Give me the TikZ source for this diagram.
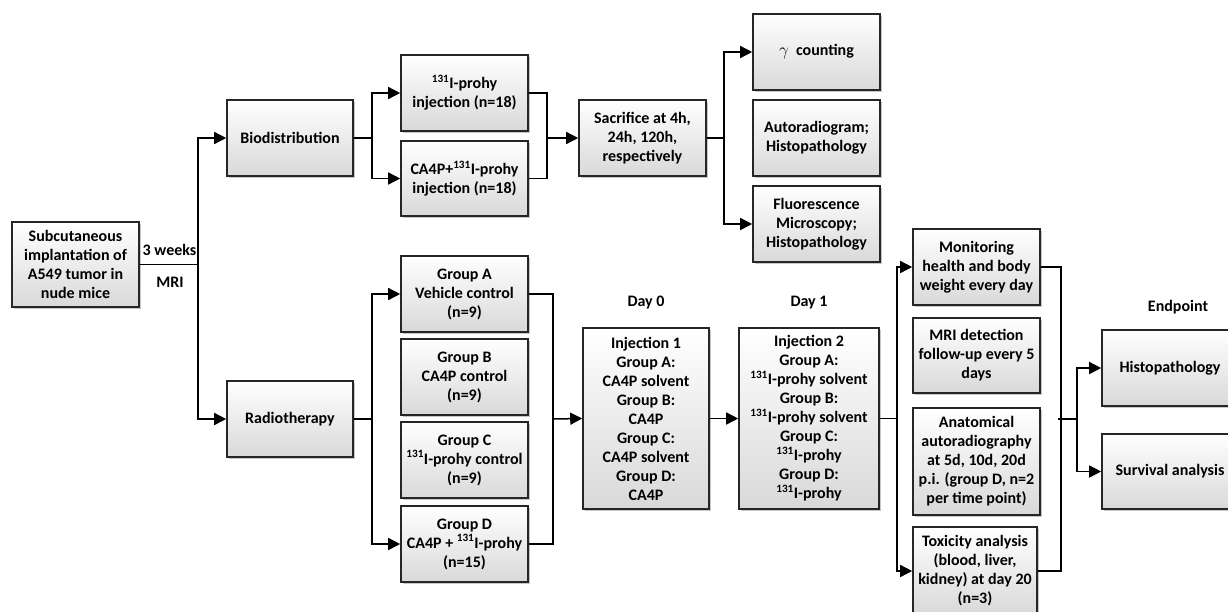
\documentclass[tikz,border=0pt]{standalone}
\usepackage{fontspec}
\setmainfont{Carlito}
\usetikzlibrary{arrows.meta,shadows}
\begin{document}
\begin{tikzpicture}[x=1pt,y=-1pt,
  box/.style={draw=black!85, line width=1.6pt, top color=white, bottom color=black!15,
    align=center, font=\fontsize{16}{19}\selectfont\bfseries, inner sep=1pt,
    drop shadow={shadow xshift=1.5pt,shadow yshift=-1.5pt,fill=black,opacity=0.22}},
  lbl/.style={font=\fontsize{16}{19}\selectfont\bfseries, inner sep=0pt},
  ln/.style={line width=1.5pt, draw=black},
  arr/.style={ln, -{Triangle[length=12pt,width=12pt]}}
]
\useasboundingbox (0,0) rectangle (1228,611);
\clip (0,0) rectangle (1228,611);
\fill[white] (0,0) rectangle (1228,611);

% nodes
\node[box, minimum width=127, minimum height=85] (sub) at (75.5,264.5) {Subcutaneous\\implantation of\\A549 tumor in\\nude mice};
\node[box, minimum width=126, minimum height=76] (bio) at (290,138) {Biodistribution};
\node[box, minimum width=126, minimum height=76] (radio) at (290,419) {Radiotherapy};
\node[box, minimum width=127, minimum height=76] (i131) at (464.5,93) {\textsuperscript{131}I-prohy\\injection (n=18)};
\node[box, minimum width=127, minimum height=75] (ca) at (464.5,178.5) {CA4P+\textsuperscript{131}I-prohy\\injection (n=18)};
\node[box, minimum width=127, minimum height=76] (sac) at (642.5,138) {Sacrifice at 4h,\\24h, 120h,\\respectively};
\node[box, minimum width=127, minimum height=76] (gam) at (816.5,52) {$\gamma$\ \ counting};
\node[box, minimum width=127, minimum height=76] (aut) at (816.5,138) {Autoradiogram;\\Histopathology};
\node[box, minimum width=127, minimum height=76] (flu) at (816.5,224) {Fluorescence\\Microscopy;\\Histopathology};
\node[box, minimum width=127, minimum height=76] (ga) at (464.5,294) {Group A\\Vehicle control\\(n=9)};
\node[box, minimum width=127, minimum height=76] (gb) at (464.5,377) {Group B\\CA4P control\\(n=9)};
\node[box, minimum width=127, minimum height=76] (gc) at (464.5,460) {Group C\\\textsuperscript{131}I-prohy control\\(n=9)};
\node[box, minimum width=127, minimum height=76] (gd) at (464.5,544) {Group D\\CA4P + \textsuperscript{131}I-prohy\\(n=15)};
\node[box, minimum width=126, minimum height=181] (inj1) at (646,418.5) {Injection 1\\Group A:\\CA4P solvent\\Group B:\\CA4P\\Group C:\\CA4P solvent\\Group D:\\CA4P};
\node[box, minimum width=140, minimum height=181] (inj2) at (809,418.5) {Injection 2\\Group A:\\\textsuperscript{131}I-prohy solvent\\Group B:\\\textsuperscript{131}I-prohy solvent\\Group C:\\\textsuperscript{131}I-prohy\\Group D:\\\textsuperscript{131}I-prohy};
\node[box, minimum width=127, minimum height=76] (mon) at (976.5,267) {Monitoring\\health and body\\weight every day};
\node[box, minimum width=127, minimum height=75] (mri) at (976.5,355.5) {MRI detection\\follow-up every 5\\days};
\node[box, minimum width=127, minimum height=107] (ana) at (976.5,461.5) {Anatomical\\autoradiography\\at 5d, 10d, 20d\\p.i. (group D, n=2\\per time point)};
\node[box, minimum width=124, minimum height=88] (tox) at (975,571) {Toxicity analysis\\(blood, liver,\\kidney) at day 20\\(n=3)};
\node[box, minimum width=136, minimum height=76] (his) at (1170,368) {Histopathology};
\node[box, minimum width=136, minimum height=75] (sur) at (1170,471.5) {Survival analysis};

% labels
\node[lbl] (w3) at (169.5,250) {3 weeks};
\node[lbl] (mr) at (170,282) {MRI};
\node[lbl] (d0) at (646,303) {Day 0};
\node[lbl] (d1) at (809,303) {Day 1};
\node[lbl] (ep) at (1178,307) {Endpoint};

% junctions
\coordinate (j1) at (198,264.5);
\coordinate (j2) at (372,138);
\coordinate (j3) at (547,138);
\coordinate (j4) at (724,138);
\coordinate (j5) at (372,419);
\coordinate (j6) at (553,419);
\coordinate (j7) at (897,418.5);
\coordinate (j8) at (1061,419);
\coordinate (j9) at (1077,419);

% connectors
\draw[ln] (sub.east) -- (j1);
\draw[arr] (j1) |- (bio.west);
\draw[arr] (j1) |- (radio.west);
\draw[ln] (bio.east) -- (j2);
\draw[arr] (j2) |- (i131.west);
\draw[arr] (j2) |- (ca.west);
\draw[ln] (i131.east) -| (j3);
\draw[ln] (ca.east) -| (j3);
\draw[arr] (j3) -- (sac.west);
\draw[ln] (sac.east) -- (j4);
\draw[arr] (j4) |- (gam.west);
\draw[arr] (j4) |- (flu.west);
\draw[ln] (radio.east) -- (j5);
\draw[arr] (j5) |- (ga.west);
\draw[arr] (j5) |- (gd.west);
\draw[ln] (ga.east) -| (j6);
\draw[ln] (gd.east) -| (j6);
\draw[arr] (j6) -- (inj1.west);
\draw[arr] (inj1.east) -- (inj2.west);
\draw[ln] (inj2.east) -- (j7);
\draw[arr] (j7) |- (mon.west);
\draw[arr] (j7) |- (tox.west);
\draw[ln] (mon.east) -| (j8);
\draw[ln] (tox.east) -| (j8);
\draw[ln] ([xshift=-3pt]j8) -- (j9);
\draw[arr] (j9) |- (his.west);
\draw[arr] (j9) |- (sur.west);
\end{tikzpicture}
\end{document}
